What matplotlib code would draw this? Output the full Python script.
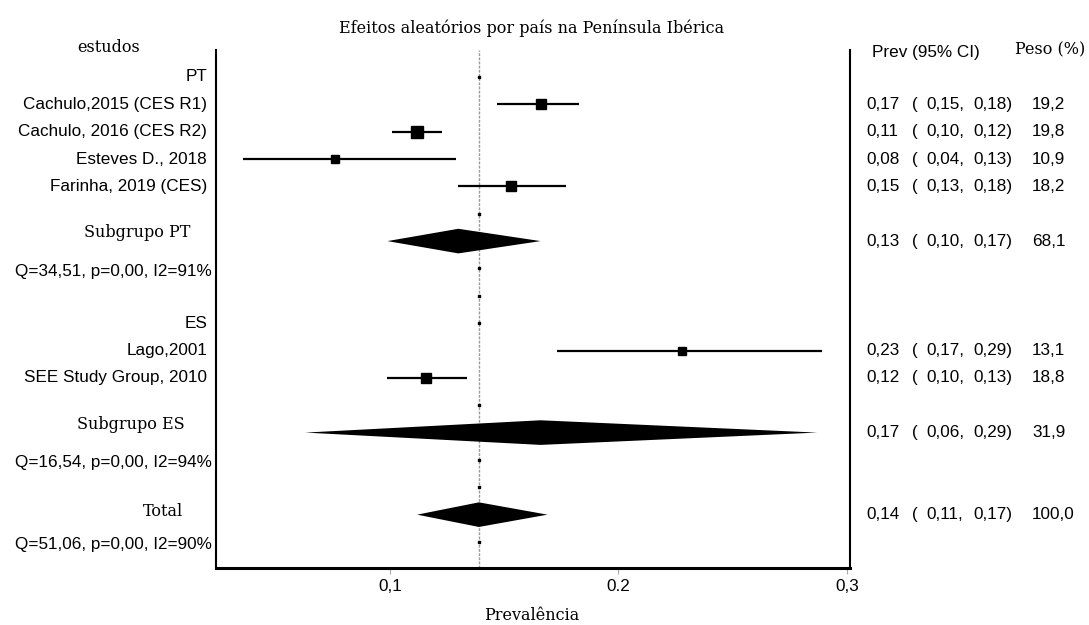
import numpy as np
import matplotlib
matplotlib.use("Agg")
import matplotlib.pyplot as plt
from matplotlib.transforms import blended_transform_factory

# Estudos de Portugal
pt_studies = ["Cachulo,2015 (CES R1)", "Cachulo, 2016 (CES R2)", "Esteves D., 2018", "Farinha, 2019 (CES)"]
pt_prev = [0.166, 0.112, 0.076, 0.153]
pt_lower = [0.147, 0.101, 0.036, 0.130]
pt_upper = [0.183, 0.123, 0.129, 0.177]
pt_weight = [19.2, 19.8, 10.9, 18.2]

# Estudos de Espanha
es_studies = ["Lago,2001", "SEE Study Group, 2010"]
es_prev = [0.228, 0.116]
es_lower = [0.173, 0.099]
es_upper = [0.289, 0.134]
es_weight = [13.1, 18.8]

# Subgrupos e total
summary_labels = ["Subgrupo PT", "Subgrupo ES", "Total"]
summary_prev = [0.130, 0.166, 0.139]
summary_lower = [0.099, 0.063, 0.112]
summary_upper = [0.166, 0.287, 0.169]
summary_weight = [68.1, 31.9, 100.0]
heterogeneity = ["Q=34,51, p=0,00, I2=91%", "Q=16,54, p=0,00, I2=94%", "Q=51,06, p=0,00, I2=90%"]

x_ticks = [0.1, 0.2, 0.3]
x_tick_labels = ["0,1", "0.2", "0,3"]

SANS = ["Liberation Sans", "DejaVu Sans"]
SERIF = ["DejaVu Serif"]
FS_SANS = 12.3
FS_SERIF = 11.5
W, H = 1089, 625


def fmt(v):
    return f"{v:.2f}".replace(".", ",")


def fmt_w(v):
    return f"{v:.1f}".replace(".", ",")


fig = plt.figure(figsize=(W / 100, H / 100), dpi=100)
ax = fig.add_axes([215.6 / W, 1 - 568 / H, (849.6 - 215.6) / W, (568 - 49.6) / H])
ax.set_xlim(0.0238, 0.3012)
ax.set_ylim(17.95, -1.0)

tr = blended_transform_factory(fig.transFigure, ax.transData)

# layout: header, studies, blank, subgroup, Q, blank ... then total
groups = [("PT", pt_studies, pt_prev, pt_lower, pt_upper, pt_weight),
          ("ES", es_studies, es_prev, es_lower, es_upper, es_weight)]
row = 0
empty_rows = []
study_rows = []
summary_rows = []
for gi, (name, names, prev, lo, hi, wt) in enumerate(groups):
    ax.text(207 / W, row, name, transform=tr, ha="right", va="center",
            family=SANS, fontsize=FS_SANS)
    empty_rows.append(row)
    row += 1
    for i in range(len(names)):
        study_rows.append((row, names[i], prev[i], lo[i], hi[i], wt[i]))
        row += 1
    empty_rows.append(row)
    row += 1
    summary_rows.append((row, gi))
    row += 2
    empty_rows.append(row - 1)
    empty_rows.append(row)
    row += 1
summary_rows.append((row, 2))
empty_rows.append(row + 1)


def right_columns(r, est, lo, hi, wt):
    ax.text(866.7 / W, r, fmt(est), transform=tr, ha="left", va="center",
            family=SANS, fontsize=FS_SANS)
    ax.text(911.7 / W, r, "(", transform=tr, ha="left", va="center",
            family=SANS, fontsize=FS_SANS)
    ax.text(926 / W, r, fmt(lo) + ",", transform=tr, ha="left", va="center",
            family=SANS, fontsize=FS_SANS)
    ax.text(973.3 / W, r, fmt(hi) + ")", transform=tr, ha="left", va="center",
            family=SANS, fontsize=FS_SANS)
    ax.text(1032 / W, r, fmt_w(wt), transform=tr, ha="left", va="center",
            family=SANS, fontsize=FS_SANS)


# estudos individuais: IC + quadrado proporcional ao peso
for r, name, est, lo, hi, wt in study_rows:
    ax.plot([lo, hi], [r, r], color="black", lw=1.6, solid_capstyle="butt", zorder=3)
    ax.plot(est, r, marker="s", color="black", ms=1.78 * np.sqrt(wt), zorder=4)
    ax.text(207 / W, r, name, transform=tr, ha="right", va="center",
            family=SANS, fontsize=FS_SANS)
    right_columns(r, est, lo, hi, wt)

# diamantes dos subgrupos e total
half = 0.45
for r, k in summary_rows:
    est, lo, hi = summary_prev[k], summary_lower[k], summary_upper[k]
    ax.fill([lo, est, hi, est], [r, r - half, r, r + half], color="black", lw=0, zorder=4)
    dy = -0.3 if k < 2 else -0.1
    right_edge = 190 if k == 0 else (185 if k == 1 else 183)
    ax.text(right_edge / W, r + dy, summary_labels[k], transform=tr, ha="right", va="center",
            family=SERIF, fontsize=FS_SERIF)
    ax.text(211.7 / W, r + 1.1, heterogeneity[k], transform=tr, ha="right", va="center",
            family=SANS, fontsize=FS_SANS)
    right_columns(r, est, lo, hi, summary_weight[k])

# linha do efeito global
ax.axvline(summary_prev[2], color="#9a9a9a", lw=1.0, ls=(0, (2, 1)), zorder=1)
ax.plot([summary_prev[2]] * len(empty_rows), empty_rows, ls="none", marker="s",
        ms=1.6, color="black", zorder=2)

ax.spines["top"].set_visible(False)
ax.spines["left"].set_linewidth(1.5)
ax.spines["right"].set_linewidth(1.5)
ax.spines["bottom"].set_linewidth(2.2)
ax.set_yticks([])
ax.set_xticks(x_ticks)
ax.set_xticklabels(x_tick_labels, family=SANS, fontsize=FS_SANS)
ax.tick_params(axis="x", direction="out", length=4, width=0.8, color="#aaaaaa", pad=4)

fig.text(532 / W, 1 - 28 / H, "Efeitos aleatórios por país na Península Ibérica",
         ha="center", va="center", family=SERIF, fontsize=FS_SERIF)
fig.text(532 / W, 1 - 615 / H, "Prevalência", ha="center", va="center",
         family=SERIF, fontsize=FS_SERIF)
fig.text(109 / W, 1 - 48 / H, "estudos", ha="center", va="center",
         family=SERIF, fontsize=FS_SERIF)
fig.text(872 / W, 1 - 53 / H, "Prev (95% CI)", ha="left", va="center",
         family=SANS, fontsize=FS_SANS)
fig.text(1015 / W, 1 - 50 / H, "Peso (%)", ha="left", va="center",
         family=SERIF, fontsize=FS_SERIF)

fig.savefig("out.png", dpi=100)
